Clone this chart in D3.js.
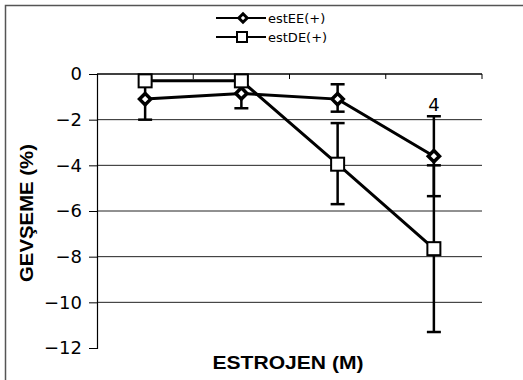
<!DOCTYPE html>
<html>
<head>
<meta charset="utf-8">
<script src="https://cdn.jsdelivr.net/npm/d3@7"></script>
<style>
  body { margin: 0; background: #fff; }
  text { font-family: "DejaVu Sans", sans-serif; fill: #000; }
</style>
</head>
<body>
<div id="root"></div>
<script>
const categories = ['c1', 'c2', 'c3', 'c4'];
const seriesNames = ['estEE(+)', 'estDE(+)'];
const eeValues = [-1.1, -0.85, -1.1, -3.6];
const eeLow = [-2.0, -1.5, -1.65, -5.35];
const eeHigh = [-0.2, -0.3, -0.45, -1.85];
const deValues = [-0.3, -0.3, -3.95, -7.65];
const deLow = [-0.45, -0.5, -5.7, -11.3];
const deHigh = [-0.15, -0.1, -2.15, -4.0];
const yTicks = [0, -2, -4, -6, -8, -10, -12];
const pointLabels = ['', '', '', '4'];

const width = 523, height = 380;
const margin = {top: 74, right: 41, bottom: 32, left: 97};

const svg = d3.select('#root').append('svg')
  .attr('width', width)
  .attr('height', height);

// frame (left + top visible)
svg.append('path')
  .attr('d', `M5.5,${height} L5.5,5.5 L${width},5.5`)
  .attr('fill', 'none')
  .attr('stroke', '#555')
  .attr('stroke-width', 1.5);

const x = d3.scaleBand()
  .domain(categories)
  .range([margin.left, width - margin.right]);

const y = d3.scaleLinear()
  .domain([0, -12])
  .range([margin.top, height - margin.bottom]);

const cx = d => x(d) + x.bandwidth() / 2;

// gridlines
svg.append('g')
  .selectAll('line')
  .data(yTicks.filter(t => t !== 0 && t !== -12))
  .enter().append('line')
  .attr('x1', margin.left)
  .attr('x2', width - margin.right)
  .attr('y1', d => y(d))
  .attr('y2', d => y(d))
  .attr('stroke', '#222')
  .attr('stroke-width', 1);

// y axis
const yAxis = svg.append('g')
  .attr('transform', `translate(${margin.left},0)`)
  .call(d3.axisLeft(y).tickValues(yTicks).tickSize(8).tickPadding(7).tickFormat(d3.format('d')));
yAxis.select('.domain').attr('stroke', '#000').attr('stroke-width', 1.2);
yAxis.selectAll('.tick line').attr('stroke', '#000');
yAxis.selectAll('text')
  .style('font-size', '18px')
  .style('font-family', '"DejaVu Sans", sans-serif')
  .attr('fill', '#000');

// x axis at y = 0
const xAxis = svg.append('g')
  .attr('transform', `translate(0,${y(0)})`);
xAxis.append('line')
  .attr('x1', margin.left).attr('x2', width - margin.right)
  .attr('stroke', '#000').attr('stroke-width', 1.5);
xAxis.selectAll('.tk')
  .data(categories)
  .enter().append('line')
  .attr('class', 'tk')
  .attr('x1', d => x(d) + x.bandwidth())
  .attr('x2', d => x(d) + x.bandwidth())
  .attr('y1', 0).attr('y2', 5)
  .attr('stroke', '#000');

// axis titles
svg.append('text')
  .attr('transform', `translate(33,${(y(0) + y(-12)) / 2 + 2}) rotate(-90)`)
  .attr('text-anchor', 'middle')
  .attr('textLength', 138)
  .attr('lengthAdjust', 'spacingAndGlyphs')
  .style('font-family', '"Liberation Sans", Arial, sans-serif')
  .style('font-size', '18px')
  .style('font-weight', 700)
  .text('GEVŞEME (%)');

svg.append('text')
  .attr('x', 288)
  .attr('y', 369)
  .attr('text-anchor', 'middle')
  .attr('textLength', 151)
  .attr('lengthAdjust', 'spacingAndGlyphs')
  .style('font-family', '"Liberation Sans", Arial, sans-serif')
  .style('font-size', '18px')
  .style('font-weight', 700)
  .text('ESTROJEN (M)');

const line = d3.line()
  .x((d, i) => cx(categories[i]))
  .y(d => y(d));

const diamond = d3.symbol().type(d3.symbolDiamond2).size(80);

function errorBars(low, high) {
  const g = svg.append('g');
  categories.forEach((c, i) => {
    g.append('line')
      .attr('x1', cx(c)).attr('x2', cx(c))
      .attr('y1', y(low[i])).attr('y2', y(high[i]))
      .attr('stroke', '#000').attr('stroke-width', 2.5);
    [low[i], high[i]].forEach(v => {
      g.append('line')
        .attr('x1', cx(c) - 7).attr('x2', cx(c) + 7)
        .attr('y1', y(v)).attr('y2', y(v))
        .attr('stroke', '#000').attr('stroke-width', 2.5);
    });
  });
}

errorBars(deLow, deHigh);
errorBars(eeLow, eeHigh);

// estDE line
svg.append('path')
  .datum(deValues)
  .attr('d', line)
  .attr('fill', 'none')
  .attr('stroke', '#000')
  .attr('stroke-width', 3);

// estEE line
svg.append('path')
  .datum(eeValues)
  .attr('d', line)
  .attr('fill', 'none')
  .attr('stroke', '#000')
  .attr('stroke-width', 3);

// EE markers
svg.append('g').selectAll('path')
  .data(eeValues)
  .enter().append('path')
  .attr('d', diamond)
  .attr('transform', (d, i) => `translate(${cx(categories[i])},${y(d)})`)
  .attr('fill', '#fff')
  .attr('stroke', '#000')
  .attr('stroke-width', 3.5);

// DE markers
svg.append('g').selectAll('rect')
  .data(deValues)
  .enter().append('rect')
  .attr('x', (d, i) => cx(categories[i]) - 6.5)
  .attr('y', d => y(d) - 6.5)
  .attr('width', 13)
  .attr('height', 13)
  .attr('fill', '#fff')
  .attr('stroke', '#000')
  .attr('stroke-width', 2);

// point labels
svg.append('g').selectAll('text')
  .data(pointLabels)
  .enter().append('text')
  .attr('x', (d, i) => cx(categories[i]))
  .attr('y', (d, i) => y(eeHigh[i]) - 5)
  .attr('text-anchor', 'middle')
  .style('font-size', '18px')
  .text(d => d);

// legend
const legend = svg.append('g').attr('transform', 'translate(216,0)');
const legendRows = legend.selectAll('g')
  .data(seriesNames)
  .enter().append('g')
  .attr('transform', (d, i) => `translate(0,${18 + i * 19})`);
legendRows.append('line')
  .attr('x1', 0).attr('x2', 50)
  .attr('stroke', '#000').attr('stroke-width', 2);
legendRows.filter((d, i) => i === 0).append('path')
  .attr('d', d3.symbol().type(d3.symbolDiamond2).size(45))
  .attr('transform', 'translate(27,0)')
  .attr('fill', '#fff').attr('stroke', '#000').attr('stroke-width', 3);
legendRows.filter((d, i) => i === 1).append('rect')
  .attr('x', 21).attr('y', -5).attr('width', 10).attr('height', 10)
  .attr('fill', '#fff').attr('stroke', '#000').attr('stroke-width', 2);
legendRows.append('text')
  .attr('x', 52)
  .attr('y', 5)
  .style('font-size', '13px')
  .text(d => d);
</script>
</body>
</html>
